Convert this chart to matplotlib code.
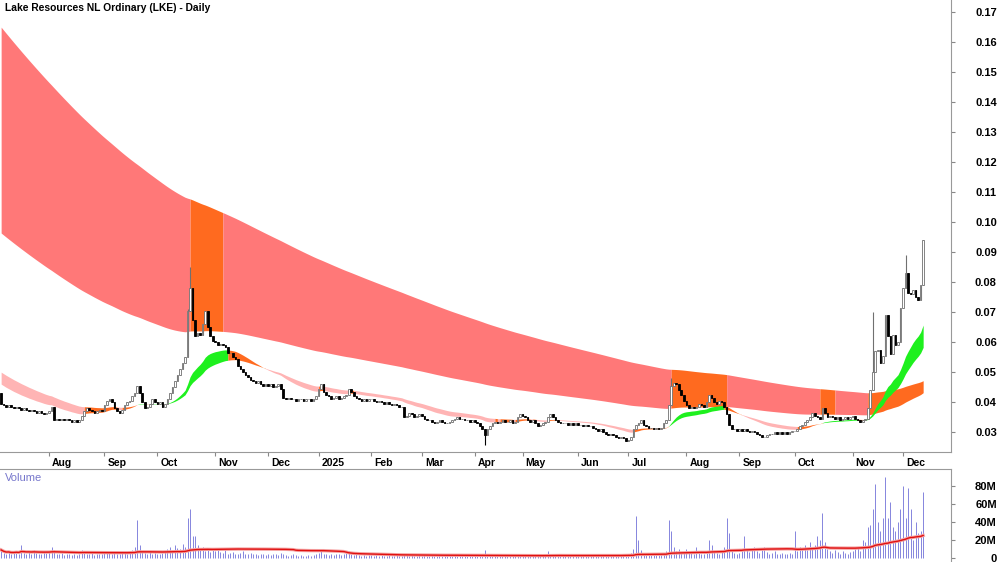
import matplotlib
matplotlib.use('Agg')
import matplotlib.pyplot as plt
from matplotlib.ticker import FormatStrFormatter
import numpy as np
import pandas as pd

plt.rcParams['font.family'] = ['Liberation Sans', 'DejaVu Sans']

# ASX trading days
holidays = ['2024-12-25', '2024-12-26', '2025-01-01', '2025-01-27',
            '2025-04-18', '2025-04-21', '2025-04-25', '2025-06-09']

# daily closes, month by month
close_jul24 = [0.0395, 0.039, 0.0385, 0.039, 0.0385, 0.038, 0.0385, 0.038, 0.0375, 0.038,
               0.0375, 0.037, 0.0375, 0.037, 0.0365, 0.037, 0.0365, 0.036, 0.0365]
close_aug24 = [0.037, 0.0385, 0.034, 0.0345, 0.034, 0.0345, 0.034, 0.0345, 0.034, 0.0335, 0.034,
               0.0335, 0.034, 0.0355, 0.037, 0.038, 0.0375, 0.037, 0.0365, 0.037, 0.0375, 0.037]
close_sep24 = [0.039, 0.0405, 0.041, 0.040, 0.038, 0.037, 0.0365, 0.0375, 0.039, 0.040, 0.0405,
               0.042, 0.043, 0.0455, 0.043, 0.040, 0.038, 0.0385, 0.0395, 0.041, 0.040]
close_oct24 = [0.0395, 0.040, 0.0385, 0.0395, 0.041, 0.043, 0.045, 0.047, 0.049, 0.051, 0.053, 0.055,
               0.0705, 0.078, 0.0675, 0.062, 0.063, 0.0625, 0.066, 0.0705, 0.065, 0.062, 0.0605]
close_nov24 = [0.060, 0.059, 0.0595, 0.059, 0.0585, 0.0565, 0.0565, 0.055, 0.0545, 0.052, 0.051,
               0.050, 0.049, 0.0485, 0.0475, 0.047, 0.0465, 0.047, 0.046, 0.0455, 0.046]
close_dec24 = [0.0455, 0.046, 0.045, 0.0455, 0.046, 0.0445, 0.0415, 0.041, 0.0415, 0.041,
               0.041, 0.0405, 0.041, 0.041, 0.0405, 0.041, 0.041, 0.0405, 0.041, 0.042]
close_jan25 = [0.0445, 0.046, 0.0435, 0.0425, 0.042, 0.041, 0.0415, 0.042, 0.041, 0.0415, 0.042,
               0.0425, 0.0445, 0.0435, 0.042, 0.0415, 0.041, 0.0405, 0.041, 0.0405, 0.041]
close_feb25 = [0.041, 0.0405, 0.040, 0.0405, 0.040, 0.0395, 0.040, 0.0395, 0.039, 0.0395,
               0.039, 0.0385, 0.0385, 0.035, 0.0355, 0.0365, 0.036, 0.035, 0.0355, 0.036]
close_mar25 = [0.0355, 0.0345, 0.034, 0.034, 0.0335, 0.033, 0.0335, 0.034, 0.0335, 0.033, 0.033,
               0.0335, 0.034, 0.0345, 0.035, 0.0345, 0.0345, 0.034, 0.034, 0.0335, 0.034]
close_apr25 = [0.0335, 0.033, 0.032, 0.031, 0.029, 0.031, 0.032, 0.033, 0.0335, 0.033,
               0.0335, 0.034, 0.0335, 0.0335, 0.034, 0.033, 0.0335, 0.035, 0.036]
close_may25 = [0.0355, 0.035, 0.034, 0.0335, 0.034, 0.033, 0.032, 0.0325, 0.033, 0.0335, 0.035,
               0.036, 0.035, 0.034, 0.0335, 0.033, 0.033, 0.033, 0.0325, 0.033, 0.0325, 0.033]
close_jun25 = [0.0325, 0.0325, 0.032, 0.0325, 0.032, 0.032, 0.0315, 0.031, 0.0305, 0.031,
               0.030, 0.0295, 0.029, 0.0295, 0.029, 0.0285, 0.028, 0.0285, 0.028, 0.027]
close_jul25 = [0.0275, 0.0285, 0.031, 0.0325, 0.033, 0.034, 0.0325, 0.032, 0.0315, 0.0315, 0.031, 0.0315,
               0.031, 0.0315, 0.033, 0.034, 0.039, 0.0455, 0.0465, 0.046, 0.044, 0.0425, 0.0405]
close_aug25 = [0.039, 0.038, 0.0385, 0.038, 0.0385, 0.0395, 0.039, 0.0385, 0.040, 0.0425, 0.0415,
               0.040, 0.0395, 0.0405, 0.040, 0.0385, 0.036, 0.0325, 0.031, 0.031, 0.0305]
close_sep25 = [0.031, 0.0305, 0.031, 0.0305, 0.030, 0.0305, 0.030, 0.0295, 0.029, 0.0285, 0.0285,
               0.029, 0.0295, 0.0295, 0.030, 0.0295, 0.030, 0.0295, 0.030, 0.0295, 0.030, 0.0305]
close_oct25 = [0.0305, 0.031, 0.032, 0.0325, 0.0335, 0.034, 0.035, 0.0365, 0.0355, 0.035, 0.0345, 0.038,
               0.0365, 0.035, 0.0355, 0.035, 0.0345, 0.035, 0.034, 0.0345, 0.035, 0.0345, 0.035]
close_nov25 = [0.0355, 0.0345, 0.034, 0.0335, 0.034, 0.0345, 0.038, 0.044, 0.050, 0.057,
               0.0575, 0.053, 0.0555, 0.069, 0.062, 0.056, 0.0625, 0.059, 0.060, 0.0715]
close_dec25 = [0.078, 0.083, 0.0765, 0.076, 0.0775, 0.075, 0.074, 0.079, 0.094]

first_open = 0.043
wick_high = {'2024-10-17': 0.071, '2024-10-18': 0.085, '2025-07-24': 0.048,
             '2025-12-02': 0.089, '2025-11-13': 0.070}
wick_low = {'2025-04-07': 0.0257, '2024-10-17': 0.0555}

# days where price traded into the long-term band (band drawn orange)
band_contact = [('2024-10-18', '2024-11-05'), ('2025-07-24', '2025-08-22'),
                ('2025-10-15', '2025-10-22'), ('2025-11-11', '2025-12-11')]

# volume in millions
vol_jul24 = [9, 6, 5, 7, 4, 6, 8, 5, 15, 6, 4, 7, 5, 9, 6, 4, 5, 7, 6]
vol_aug24 = [8, 12, 9, 5, 4, 6, 3, 5, 4, 3, 4, 3, 5, 9, 7, 5, 4, 6, 3, 4, 5, 4]
vol_sep24 = [6, 8, 7, 5, 6, 4, 5, 6, 7, 5, 8, 9, 12, 42, 15, 8, 6, 5, 7, 4, 6]
vol_oct24 = [5, 4, 6, 8, 10, 12, 9, 14, 11, 10, 16, 12, 44, 55, 25, 25, 14, 9, 12, 8, 10, 7, 9]
vol_nov24 = [8, 10, 7, 6, 9, 5, 6, 7, 5, 4, 6, 8, 5, 4, 6, 5, 4, 3, 5, 4, 3]
vol_dec24 = [4, 3, 5, 4, 3, 6, 4, 3, 2, 3, 4, 3, 2, 3, 2, 2, 3, 2, 3, 4]
vol_jan25 = [6, 9, 5, 4, 3, 4, 3, 5, 4, 3, 4, 6, 8, 5, 3, 4, 3, 2, 3, 2, 3]
vol_feb25 = [3, 2, 3, 2, 3, 2, 2, 3, 2, 2, 3, 2, 2, 5, 3, 2, 3, 2, 2, 3]
vol_mar25 = [2, 3, 2, 2, 3, 2, 2, 3, 2, 2, 3, 2, 2, 3, 2, 2, 3, 2, 2, 3, 2]
vol_apr25 = [2, 3, 3, 5, 9, 4, 3, 2, 3, 2, 2, 3, 2, 2, 3, 2, 3, 4, 3]
vol_may25 = [3, 2, 3, 2, 2, 3, 2, 3, 2, 4, 8, 5, 3, 2, 3, 2, 2, 3, 2, 2, 3, 2]
vol_jun25 = [2, 3, 2, 2, 3, 2, 2, 3, 2, 2, 3, 2, 3, 2, 2, 3, 2, 3, 4, 3]
vol_jul25 = [5, 6, 10, 47, 20, 9, 6, 5, 4, 3, 4, 3, 3, 4, 5, 8, 42, 30, 12, 8, 10, 6, 7]
vol_aug25 = [10, 6, 8, 5, 12, 6, 4, 5, 7, 20, 15, 8, 6, 5, 9, 12, 45, 28, 8, 6, 5]
vol_sep25 = [6, 8, 25, 10, 7, 9, 12, 8, 6, 10, 12, 7, 5, 6, 8, 5, 4, 6, 5, 4, 6, 5]
vol_oct25 = [30, 8, 12, 10, 15, 9, 18, 12, 14, 25, 20, 50, 18, 10, 8, 6, 9, 7, 5, 8, 6, 5, 7]
vol_nov25 = [8, 10, 12, 8, 20, 18, 35, 37, 55, 82, 40, 30, 45, 90, 45, 62, 35, 30, 40, 55]
vol_dec25 = [80, 45, 78, 55, 20, 40, 28, 30, 73]

price_ticks = np.arange(0.03, 0.171, 0.01)
vol_ticks = [0, 20, 40, 60, 80]
vol_labels = ['0', '20M', '40M', '60M', '80M']

close = np.array(close_jul24 + close_aug24 + close_sep24 + close_oct24 + close_nov24 + close_dec24 +
                 close_jan25 + close_feb25 + close_mar25 + close_apr25 + close_may25 + close_jun25 +
                 close_jul25 + close_aug25 + close_sep25 + close_oct25 + close_nov25 + close_dec25)
volume = np.array(vol_jul24 + vol_aug24 + vol_sep24 + vol_oct24 + vol_nov24 + vol_dec24 +
                  vol_jan25 + vol_feb25 + vol_mar25 + vol_apr25 + vol_may25 + vol_jun25 +
                  vol_jul25 + vol_aug25 + vol_sep25 + vol_oct25 + vol_nov25 + vol_dec25, dtype=float)

dates = pd.bdate_range('2024-07-05', '2025-12-11')
dates = dates[~dates.isin(pd.to_datetime(holidays))][:len(close)]
n = len(close)
x = np.arange(n)

opn = np.r_[first_open, close[:-1]]
high = np.maximum(opn, close)
low = np.minimum(opn, close)
for d, v in wick_high.items():
    i = dates.get_loc(pd.Timestamp(d))
    high[i] = max(high[i], v)
for d, v in wick_low.items():
    i = dates.get_loc(pd.Timestamp(d))
    low[i] = min(low[i], v)


def ema(values, span, seed):
    s = pd.Series(np.r_[seed, values])
    return s.ewm(span=span, adjust=False).mean().to_numpy()[1:]


# long-term ribbon
lt_hi = ema(close, 243, 0.166)
lt_lo = ema(close, 168, 0.097)
contact = np.zeros(n, dtype=bool)
for a, b in band_contact:
    contact |= (dates >= pd.Timestamp(a)) & (dates <= pd.Timestamp(b))
lt_col = np.where(contact, '#FF6A1F', '#FF7878')

# short-term ribbon
st_fast = ema(close, 25, 0.0465)
st_slow = ema(close, 40, 0.0505)
fast_up = np.r_[False, np.diff(st_fast) > 0]
st_col = np.where((st_fast > st_slow) & fast_up, '#1EF01E',
                  np.where((st_fast < st_slow) & ~fast_up, '#FFB4B4', '#FF6A1F'))


def fill_runs(ax, lo, hi, colors, z):
    start = 0
    for i in range(1, n + 1):
        if i == n or colors[i] != colors[start]:
            sl = slice(start, min(i + 1, n))
            ax.fill_between(x[sl], lo[sl], hi[sl], color=colors[start], lw=0, zorder=z)
            start = i


fig = plt.figure(figsize=(10, 5.62), dpi=100)
ax = fig.add_axes([0, 110 / 562, 0.951, 452 / 562])
vax = fig.add_axes([0, 0, 0.951, 93 / 562])

ppd = (903 - 49) / (358 - 19)
x0 = 49 - 19 * ppd
xlim = (-x0 / ppd, (951 - x0) / ppd)

fill_runs(ax, lt_lo, lt_hi, lt_col, 1)
fill_runs(ax, np.minimum(st_fast, st_slow), np.maximum(st_fast, st_slow), st_col, 2)

up = close >= opn
ax.vlines(x[up], low[up], high[up], color='#707070', lw=0.8, zorder=3)
ax.vlines(x[~up], low[~up], high[~up], color='black', lw=0.8, zorder=3)
ax.bar(x[up], (close - opn)[up], bottom=opn[up], width=0.65, facecolor='white',
       edgecolor='#707070', lw=0.6, zorder=4)
ax.bar(x[~up], (opn - close)[~up], bottom=close[~up], width=0.65, facecolor='black',
       edgecolor='black', lw=0.6, zorder=4)

ax.set_xlim(xlim)
ax.set_ylim(0.17 - 440 / 3000, 0.17 + 12 / 3000)
ax.yaxis.tick_right()
ax.set_yticks(price_ticks)
ax.yaxis.set_major_formatter(FormatStrFormatter('%.2f'))
ax.tick_params(axis='y', length=3, color='#888888', pad=30, labelsize=8)
for lbl in ax.get_yticklabels():
    lbl.set_fontweight('bold')
    lbl.set_horizontalalignment('right')

# month ticks
month_idx = [i for i in range(1, n) if dates[i].month != dates[i - 1].month]
month_lbl = ['2025' if dates[i].month == 1 else dates[i].strftime('%b') for i in month_idx]
ax.set_xticks(month_idx)
ax.set_xticklabels([])
ax.tick_params(axis='x', length=3, color='#888888')
for i, lbl in zip(month_idx, month_lbl):
    ax.annotate(lbl, xy=(i, 0), xycoords=('data', 'axes fraction'), xytext=(3, -11),
                textcoords='offset pixels', ha='left', va='center', fontsize=7.5, fontweight='bold')

for s in ['top', 'left']:
    ax.spines[s].set_visible(False)
for s in ['bottom', 'right']:
    ax.spines[s].set_color('#999999')

# volume
vax.vlines(x, 0, volume, color='#8585DD', lw=0.7)
vma = pd.Series(volume).rolling(63, min_periods=1).mean()
vax.plot(x, vma, color='#F4A0A0', lw=2.4)
vax.plot(x, vma, color='#E01010', lw=1.0)
vax.set_xlim(xlim)
vax.set_ylim(-4.4, 98.9)
vax.yaxis.tick_right()
vax.set_yticks(vol_ticks)
vax.set_yticklabels(vol_labels)
vax.tick_params(axis='y', length=3, color='#888888', pad=30, labelsize=8)
for lbl in vax.get_yticklabels():
    lbl.set_fontweight('bold')
    lbl.set_horizontalalignment('right')
vax.set_xticks([])
for s in ['bottom', 'left']:
    vax.spines[s].set_visible(False)
for s in ['top', 'right']:
    vax.spines[s].set_color('#999999')
vax.text(0.005, 0.9, 'Volume', transform=vax.transAxes, color='#7777CC', fontsize=8, va='center')

fig.text(0.005, 1 - 8 / 562, 'Lake Resources NL Ordinary (LKE) - Daily', fontsize=7.4,
         fontweight='bold', va='center', ha='left')

fig.savefig('out.png', dpi=100)
